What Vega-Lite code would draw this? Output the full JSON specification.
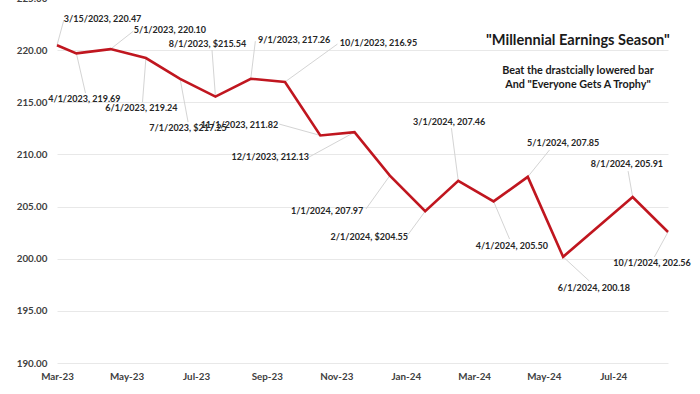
{
  "$schema": "https://vega.github.io/schema/vega-lite/v6.json",
  "autosize": {"type": "none"},
  "width": 611,
  "height": 365,
  "padding": {"left": 57, "top": -2, "right": 32, "bottom": 31},
  "background": "white",
  "config": {
    "view": {"stroke": null},
    "font": "Lato",
    "axis": {"labelFont": "Lato", "labelFontWeight": "bold", "labelColor": "#404040", "labelFontSize": 9.8}
  },
  "data": {
    "values": [
      {"date": "2023-03-15T00:00", "value": 220.47, "label": "3/15/2023,  220.47", "tx": "2023-04-24T00:00", "ty": 222.97, "ex": "2023-03-21T00:00", "ey": 222.88},
      {"date": "2023-04-01T00:00", "value": 219.69, "label": "4/1/2023,  219.69", "tx": "2023-04-08T00:00", "ty": 215.30, "ex": "2023-04-09T00:00", "ey": 215.88},
      {"date": "2023-05-01T00:00", "value": 220.10, "label": "5/1/2023,  220.10", "tx": "2023-06-22T00:00", "ty": 221.92, "ex": "2023-05-21T00:00", "ey": 221.82},
      {"date": "2023-06-01T00:00", "value": 219.24, "label": "6/1/2023,  219.24", "tx": "2023-05-28T00:00", "ty": 214.44, "ex": "2023-05-29T00:00", "ey": 215.02},
      {"date": "2023-07-01T00:00", "value": 217.25, "label": "7/1/2023, $217.25", "tx": "2023-07-08T00:00", "ty": 212.52, "ex": "2023-07-08T00:00", "ey": 213.10},
      {"date": "2023-08-01T00:00", "value": 215.54, "label": "8/1/2023, $215.54", "tx": "2023-07-25T00:00", "ty": 220.58, "ex": "2023-07-29T00:00", "ey": 220.00},
      {"date": "2023-09-01T00:00", "value": 217.26, "label": "9/1/2023,  217.26", "tx": "2023-10-09T00:00", "ty": 220.96, "ex": "2023-09-05T00:00", "ey": 220.86},
      {"date": "2023-10-01T00:00", "value": 216.95, "label": "10/1/2023,  216.95", "tx": "2023-12-22T00:00", "ty": 220.67, "ex": "2023-11-16T00:00", "ey": 220.58},
      {"date": "2023-11-01T00:00", "value": 211.82, "label": "11/1/2023,  211.82", "tx": "2023-08-22T00:00", "ty": 212.81, "ex": "2023-09-26T00:00", "ey": 212.91},
      {"date": "2023-12-01T00:00", "value": 212.13, "label": "12/1/2023,  212.13", "tx": "2023-09-18T00:00", "ty": 209.74, "ex": "2023-10-22T00:00", "ey": 209.74},
      {"date": "2024-01-01T00:00", "value": 207.97, "label": "1/1/2024,  207.97", "tx": "2023-11-07T00:00", "ty": 204.57, "ex": "2023-12-11T00:00", "ey": 204.76},
      {"date": "2024-02-01T00:00", "value": 204.55, "label": "2/1/2024, $204.55", "tx": "2023-12-14T00:00", "ty": 202.08, "ex": "2024-01-16T00:00", "ey": 202.17},
      {"date": "2024-03-01T00:00", "value": 207.46, "label": "3/1/2024,  207.46", "tx": "2024-02-22T00:00", "ty": 213.10, "ex": "2024-02-24T00:00", "ey": 212.52},
      {"date": "2024-04-01T00:00", "value": 205.50, "label": "4/1/2024,  205.50", "tx": "2024-04-17T00:00", "ty": 201.21, "ex": "2024-04-15T00:00", "ey": 201.89},
      {"date": "2024-05-01T00:00", "value": 207.85, "label": "5/1/2024,  207.85", "tx": "2024-06-01T00:00", "ty": 211.09, "ex": "2024-05-20T00:00", "ey": 210.42},
      {"date": "2024-06-01T00:00", "value": 200.18, "label": "6/1/2024,  200.18", "tx": "2024-06-28T00:00", "ty": 197.19, "ex": "2024-06-24T00:00", "ey": 197.86},
      {"date": "2024-08-01T00:00", "value": 205.91, "label": "8/1/2024,  205.91", "tx": "2024-07-27T00:00", "ty": 209.07, "ex": "2024-07-28T00:00", "ey": 208.40},
      {"date": "2024-09-01T00:00", "value": 202.56, "label": "10/1/2024, 202.56", "tx": "2024-08-18T00:00", "ty": 199.58, "ex": "2024-08-20T00:00", "ey": 200.16}
    ],
    "format": {"parse": {"date": "date", "tx": "date", "ex": "date"}}
  },
  "layer": [
    {
      "mark": {"type": "rule", "color": "#d4d4d4", "strokeWidth": 1},
      "encoding": {
        "x": {"field": "date", "type": "temporal", "scale": {"domain": [{"year": 2023, "month": 3, "date": 15}, {"year": 2024, "month": 9, "date": 1}]},
          "axis": {"title": null, "format": "%b-%y", "grid": false, "ticks": false, "domain": false, "labelPadding": 8, "labelFlush": false,
            "values": [{"year": 2023, "month": 3, "date": 15}, {"year": 2023, "month": 5, "date": 15}, {"year": 2023, "month": 7, "date": 15}, {"year": 2023, "month": 9, "date": 15}, {"year": 2023, "month": 11, "date": 15}, {"year": 2024, "month": 1, "date": 15}, {"year": 2024, "month": 3, "date": 15}, {"year": 2024, "month": 5, "date": 15}, {"year": 2024, "month": 7, "date": 15}]}},
        "y": {"field": "value", "type": "quantitative", "scale": {"domain": [190, 225], "nice": false, "zero": false},
          "axis": {"title": null, "format": ".2f", "values": [190, 195, 200, 205, 210, 215, 220, 225], "ticks": false, "domain": false, "labelPadding": 10, "labelFlush": false, "gridColor": "#e8e8e8", "gridWidth": 1}},
        "x2": {"field": "ex"},
        "y2": {"field": "ey"}
      }
    },
    {
      "mark": {"type": "line", "color": "#c0161f", "strokeWidth": 2.6},
      "encoding": {
        "x": {"field": "date", "type": "temporal"},
        "y": {"field": "value", "type": "quantitative"}
      }
    },
    {
      "mark": {"type": "text", "font": "Lato", "fontWeight": "bold", "fontSize": 9, "color": "#262626", "align": "center", "baseline": "middle"},
      "encoding": {
        "x": {"field": "tx", "type": "temporal"},
        "y": {"field": "ty", "type": "quantitative"},
        "text": {"field": "label"}
      }
    },
    {
      "data": {"values": [{"text": "\"Millennial Earnings Season\"", "date": "2024-06-14T00:00", "value": 220.86}], "format": {"parse": {"date": "date"}}},
      "mark": {"type": "text", "font": "Lato", "fontWeight": "bold", "fontSize": 14.6, "color": "#1a1a1a", "align": "center", "baseline": "middle"},
      "encoding": {
        "x": {"field": "date", "type": "temporal"},
        "y": {"field": "value", "type": "quantitative"},
        "text": {"field": "text"}
      }
    },
    {
      "data": {"values": [{"text": "Beat the drastcially lowered bar", "date": "2024-06-14T00:00", "value": 217.99}, {"text": "And \"Everyone Gets A Trophy\"", "date": "2024-06-14T00:00", "value": 216.65}], "format": {"parse": {"date": "date"}}},
      "mark": {"type": "text", "font": "Lato", "fontWeight": "bold", "fontSize": 10.8, "color": "#1a1a1a", "align": "center", "baseline": "middle"},
      "encoding": {
        "x": {"field": "date", "type": "temporal"},
        "y": {"field": "value", "type": "quantitative"},
        "text": {"field": "text"}
      }
    }
  ]
}
